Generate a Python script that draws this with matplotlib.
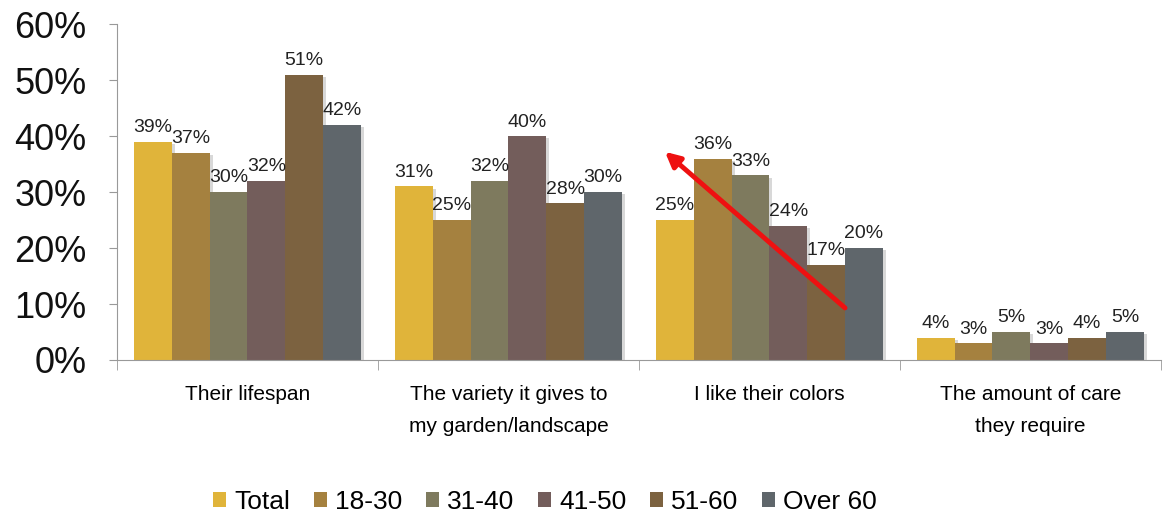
import numpy as np
import matplotlib.pyplot as plt
from matplotlib.ticker import PercentFormatter

plt.rcParams['font.family'] = ['Liberation Sans', 'DejaVu Sans']

# data
categories = ["Their lifespan", "The variety it gives to\nmy garden/landscape",
              "I like their colors", "The amount of care\nthey require"]
groups = ["Total", "18-30", "31-40", "41-50", "51-60", "Over 60"]
values = {
    "Total":   [39, 31, 25, 4],
    "18-30":   [37, 25, 36, 3],
    "31-40":   [30, 32, 33, 5],
    "41-50":   [32, 40, 24, 3],
    "51-60":   [51, 28, 17, 4],
    "Over 60": [42, 30, 20, 5],
}
colors = ["#E0B43A", "#A5813F", "#7E7A5E", "#735D5B", "#7C6240", "#5F666B"]

fig = plt.figure(figsize=(11.65, 5.15), dpi=100)
ax = fig.add_axes([0.1004, 0.301, 0.896, 0.652])

x = np.arange(len(categories))
n = len(groups)
w = 0.87 / n
for i, g in enumerate(groups):
    pos = x - 0.435 + w * (i + 0.5)
    # soft shadow
    ax.bar(pos + 0.012, values[g], w, bottom=-0.4, color="#d8d8d8", zorder=1)
    bars = ax.bar(pos, values[g], w, color=colors[i], label=g, zorder=2)
    for b, v in zip(bars, values[g]):
        ax.text(b.get_x() + b.get_width() / 2, v + 1, f"{v}%",
                ha="center", va="bottom", fontsize=14, color="#222222", zorder=3)

ax.set_xlim(-0.5, len(categories) - 0.5)
ax.set_ylim(0, 60)
ax.set_yticks(range(0, 61, 10))
ax.yaxis.set_major_formatter(PercentFormatter(decimals=0))
ax.tick_params(axis="y", labelsize=26, length=6, color="#999999", pad=16)
for t in ax.get_yticklabels():
    t.set_color("#111111")

ax.set_xticks(x)
ax.set_xticklabels(categories, fontsize=15, linespacing=1.9)
ax.tick_params(axis="x", length=0, pad=18)
ax.set_xticks(np.arange(-0.5, len(categories), 1), minor=True)
ax.tick_params(axis="x", which="minor", length=7, color="#999999")

for s in ["top", "right"]:
    ax.spines[s].set_visible(False)
for s in ["left", "bottom"]:
    ax.spines[s].set_color("#999999")

# red arrow
ax.annotate("", xy=(1.60, 37.2), xytext=(2.29, 9.3),
            arrowprops=dict(arrowstyle="-|>", color="#ee1111", lw=3.5,
                            mutation_scale=22, shrinkA=0, shrinkB=0), zorder=4)

ax.legend(loc="lower center", bbox_to_anchor=(0.41, -0.49), ncol=6, frameon=False,
          fontsize=19, handlelength=0.5, handleheight=0.5, handletextpad=0.3,
          columnspacing=0.9, borderaxespad=0)

fig.savefig("out.png", dpi=100)
